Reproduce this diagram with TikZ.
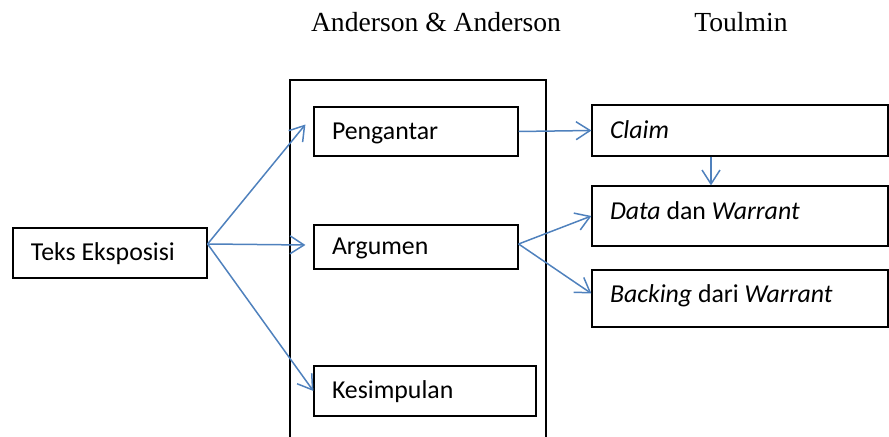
\documentclass[tikz,border=0pt]{standalone}
\usepackage{fontspec}
\setmainfont{Carlito}
\newfontfamily\judulfont{Liberation Serif}
\usetikzlibrary{arrows.meta}
\definecolor{biru}{RGB}{79,129,189}
\begin{document}
\begin{tikzpicture}[x=0.5pt,y=-0.5pt]
 \tikzstyle{kotak}=[draw, rectangle, line width=0.6pt, inner xsep=9pt, text height=10pt, text depth=2pt, font=\fontsize{12.9}{15}\selectfont]
 \tikzstyle{panah}=[draw=biru, line width=0.75pt, -{Straight Barb[length=7pt, width=9pt]}]
 \tikzstyle{judul}=[font=\judulfont\fontsize{13.8}{16}\selectfont]
\useasboundingbox (0,0) rectangle (889,437);
% judul kolom
\draw (436,22) node[judul] (jand) {Anderson \& Anderson};
\draw (741,22) node[judul] (jtou) {Toulmin};
% kolom Anderson
\draw[line width=0.6pt] (290,437) |- (546,80) -- (546,437);
\draw (110,253) node[kotak, minimum height=25pt] (teks) {\makebox[79pt][l]{Teks Eksposisi}};
\draw (416,131.5) node[kotak, minimum height=24.5pt] (peng) {\makebox[84pt][l]{Pengantar}};
\draw (416,247) node[kotak, minimum height=22pt] (arg) {\makebox[84pt][l]{Argumen}};
\draw (425,391) node[kotak, minimum height=25pt] (kes) {\makebox[93pt][l]{Kesimpulan}};
% kolom Toulmin
\draw (740,130.5) node[kotak, minimum height=25.5pt] (claim) {\makebox[130pt][l]{\textit{Claim}}};
\draw (740,216) node[kotak, minimum height=30pt, text depth=6.5pt] (data) {\makebox[130pt][l]{\textit{Data} dan \textit{Warrant}}};
\draw (740,298.5) node[kotak, minimum height=28.5pt, text depth=5.5pt] (back) {\makebox[130pt][l]{\textit{Backing} dari \textit{Warrant}}};
% panah
\draw[panah] ([shift={(0,-9)}]teks.east) -- ([shift={(-8,-7)}]peng.west);
\draw[panah] ([shift={(0,-9)}]teks.east) -- ([shift={(-8,-2)}]arg.west);
\draw[panah] ([shift={(0,-9)}]teks.east) -- (kes.west);
\draw[panah] (peng.east) -- (claim.west);
\draw[panah] ([shift={(-29,0)}]claim.south) -- ([shift={(-29,0)}]data.north);
\draw[panah] ([shift={(0,-3)}]arg.east) -- (data.west);
\draw[panah] ([shift={(0,-3)}]arg.east) -- ([shift={(0,-5)}]back.west);
\end{tikzpicture}
\end{document}
